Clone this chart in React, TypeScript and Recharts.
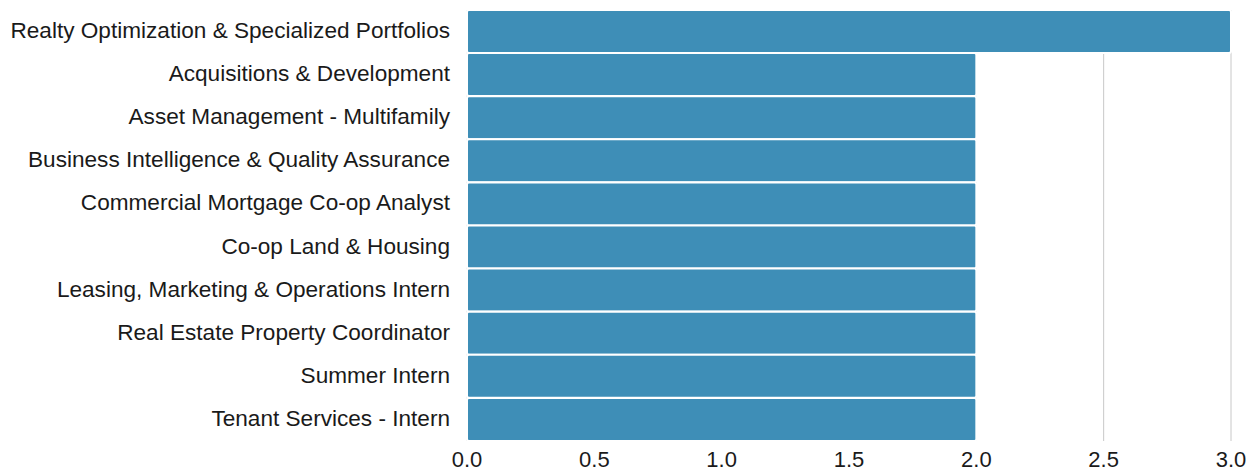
import React from 'react';
import { BarChart, Bar, XAxis, YAxis, CartesianGrid } from 'recharts';

const categories = [
  'Realty Optimization & Specialized Portfolios',
  'Acquisitions & Development',
  'Asset Management - Multifamily',
  'Business Intelligence & Quality Assurance',
  'Commercial Mortgage Co-op Analyst',
  'Co-op Land & Housing',
  'Leasing, Marketing & Operations Intern',
  'Real Estate Property Coordinator',
  'Summer Intern',
  'Tenant Services - Intern',
];
const counts = [3, 2, 2, 2, 2, 2, 2, 2, 2, 2];
const xTicks = [0, 0.5, 1, 1.5, 2, 2.5, 3];

const data = categories.map((name, i) => ({ name, value: counts[i] }));

const font = '"Liberation Sans", Arial, sans-serif';

const YTick = (props: any) => {
  const { x, y, payload } = props;
  return (
    <text
      x={x}
      y={y - 1.5}
      dy="0.355em"
      textAnchor="end"
      fill="#1a1a1a"
      fontSize={22.6}
      fontFamily={font}
    >
      {payload.value}
    </text>
  );
};

export default function App() {
  return (
    <div style={{ position: 'fixed', left: 0, top: 0, width: 1255, height: 472, background: '#fff' }}>
      <BarChart
        width={1255}
        height={472}
        data={data}
        layout="vertical"
        margin={{ top: 10, right: 24, bottom: 0, left: 0 }}
        barCategoryGap={0}
      >
        <CartesianGrid horizontal={false} vertical={true} stroke="#c8c8c8" strokeWidth={1} />
        <XAxis
          type="number"
          domain={[0, 3]}
          ticks={xTicks}
          tickFormatter={(v: number) => v.toFixed(1)}
          axisLine={false}
          tickLine={false}
          tickSize={0}
          tickMargin={10}
          height={31}
          tick={{ fill: '#1a1a1a', fontSize: 22, fontFamily: font }}
          interval={0}
        />
        <YAxis
          type="category"
          dataKey="name"
          width={467}
          axisLine={false}
          tickLine={false}
          tickSize={0}
          tickMargin={17}
          interval={0}
          tick={<YTick />}
        />
        <Bar
          dataKey="value"
          fill="#3e8eb7"
          stroke="#ffffff"
          strokeWidth={2}
          radius={2}
          isAnimationActive={false}
        />
      </BarChart>
    </div>
  );
}
